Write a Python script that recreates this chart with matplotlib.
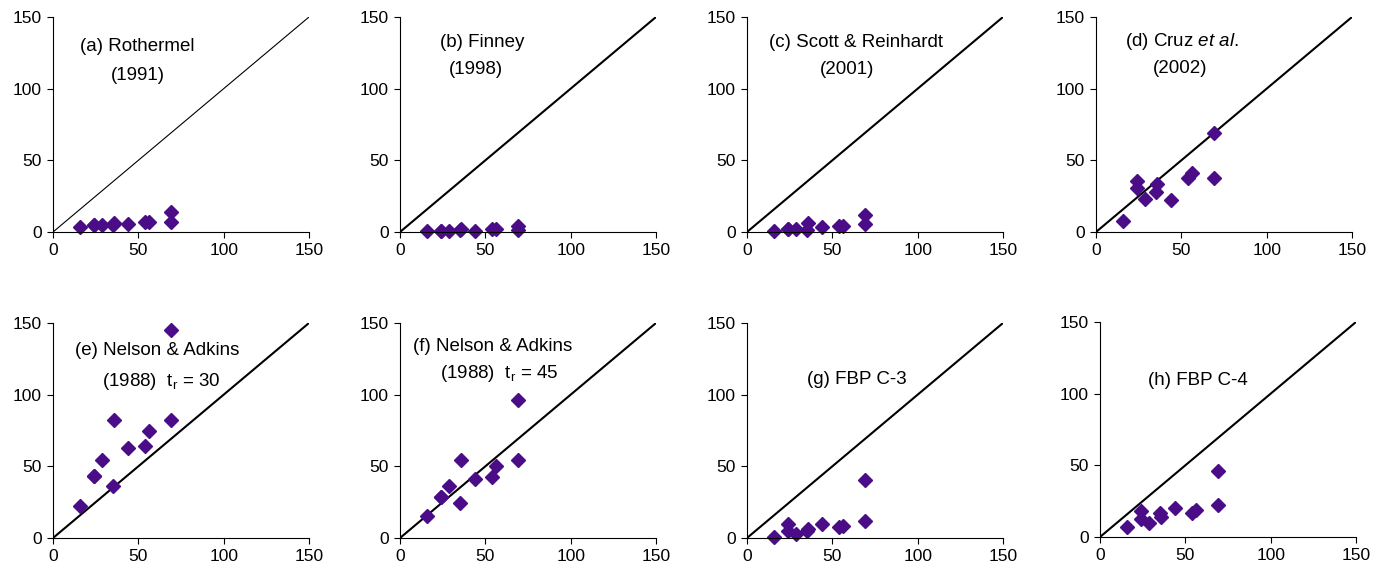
import matplotlib
matplotlib.use("Agg")
import matplotlib.pyplot as plt

plt.rcParams['font.family'] = ['Liberation Sans', 'DejaVu Sans']
plt.rcParams['mathtext.fontset'] = 'custom'
plt.rcParams['mathtext.rm'] = 'Liberation Sans'
plt.rcParams['mathtext.it'] = 'Liberation Sans:italic'

# observed spread rate (shared x values for all panels)
observed = [16, 24, 24, 29, 35, 36, 44, 54, 56, 69, 69]

# predicted values per model
pred_a = [3.5, 5, 5, 5, 5, 6.5, 5.5, 7, 7, 14, 7]
pred_b = [0.5, 1, 1, 1, 1.5, 2, 1, 2, 2, 4.5, 1.5]
pred_c = [1, 2, 2, 2, 1.5, 6, 3.5, 4.5, 4.5, 12, 5.5]
pred_d = [8, 35.5, 30.5, 23, 28, 33.5, 22.5, 38, 41.5, 69, 38]
pred_e = [22.5, 43, 43, 54.5, 36.5, 82, 63, 64.5, 75, 145, 82]
pred_f = [15.5, 28.5, 28.5, 36.5, 24.5, 54.5, 41.5, 42.5, 50, 96, 54.5]
pred_g = [1, 9.5, 5, 3, 5, 6.5, 10, 7.5, 8.5, 40.5, 12]
pred_h = [7, 18, 12.5, 10, 17, 14, 20, 17, 18.5, 46, 22.5]

panneaux = [
    # (données, position [gauche, bas], ligne 1, ligne 2, pos. ligne 1, pos. ligne 2, épaisseur 1:1, alignement ligne 2)
    (pred_a, [53, 232], "(a) Rothermel", "(1991)", (0.106, 0.865), (0.33, 0.73), 0.8, 'center'),
    (pred_b, [400, 232], "(b) Finney", "(1998)", (0.155, 0.88), (0.295, 0.755), 1.5, 'center'),
    (pred_c, [747, 232], "(c) Scott & Reinhardt", "(2001)", (0.085, 0.88), (0.39, 0.755), 1.5, 'center'),
    (pred_d, [1096, 232], r"(d) Cruz $\mathit{et\ al.}$", "(2002)", (0.115, 0.884), (0.33, 0.76), 1.5, 'center'),
    (pred_e, [53, 538], "(e) Nelson & Adkins", r"(1988)  t$_\mathregular{r}$ = 30", (0.086, 0.87), (0.19, 0.73), 1.5, 'left'),
    (pred_f, [400, 538], "(f) Nelson & Adkins", r"(1988)  t$_\mathregular{r}$ = 45", (0.05, 0.89), (0.155, 0.765), 1.5, 'left'),
    (pred_g, [747, 538], "(g) FBP C-3", None, (0.236, 0.736), None, 1.5, None),
    (pred_h, [1100, 537], "(h) FBP C-4", None, (0.188, 0.73), None, 1.5, None),
]

W, H = 1384, 577
fig = plt.figure(figsize=(W / 100, H / 100), dpi=100)

for pred, pos, t1, t2, p1, p2, lw, ha2 in panneaux:
    ax = fig.add_axes([pos[0] / W, 1 - pos[1] / H, 256 / W, 215 / H])
    ax.plot([0, 150], [0, 150], color='black', lw=lw)
    ax.plot(observed, pred, 'D', color='#4B0C87', ms=7, mec='#4B0C87', clip_on=False)
    ax.set_xlim(0, 150)
    ax.set_ylim(0, 150)
    ax.set_xticks([0, 50, 100, 150])
    ax.set_yticks([0, 50, 100, 150])
    ax.spines['top'].set_visible(False)
    ax.spines['right'].set_visible(False)
    ax.tick_params(direction='out', length=4, labelsize=12.5, pad=4)
    ax.text(p1[0], p1[1], t1, transform=ax.transAxes, ha='left', va='center', fontsize=13.5)
    if t2:
        ax.text(p2[0], p2[1], t2, transform=ax.transAxes, ha=ha2, va='center', fontsize=13.5)

fig.savefig('out.png', dpi=100)
